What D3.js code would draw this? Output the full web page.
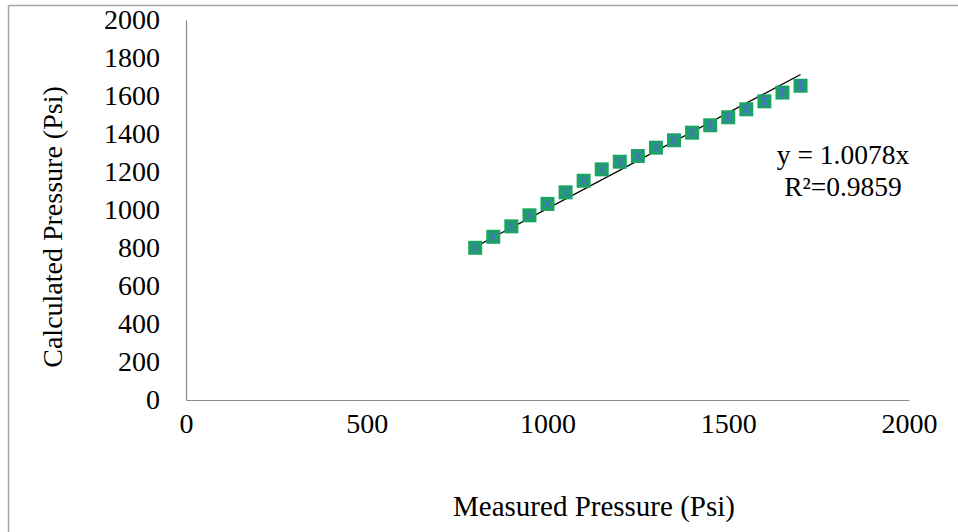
<!DOCTYPE html>
<html>
<head>
<meta charset="utf-8">
<script src="https://cdn.jsdelivr.net/npm/d3@7"></script>
<style>
html,body{margin:0;padding:0;background:#fff;}
svg{display:block;font-family:"Liberation Serif","Times New Roman",serif;}
</style>
</head>
<body>
<svg id="chart" width="958" height="532"></svg>
<script>
const measured = [800,850,900,950,1000,1050,1100,1150,1200,1250,1300,1350,1400,1450,1500,1550,1600,1650,1700];
const calculated = [801,859,914,972,1032,1093,1154,1214,1254,1284,1328,1367,1407,1446,1488,1530,1572,1618,1654];
const xTicks = [0,500,1000,1500,2000];
const yTicks = [0,200,400,600,800,1000,1200,1400,1600,1800,2000];
const slope = 1.0078;
const eqLines = ["y = 1.0078x","R²=0.9859"];
const xTitle = "Measured Pressure (Psi)";
const yTitle = "Calculated Pressure (Psi)";

const svg = d3.select("#chart");
const x = d3.scaleLinear().domain([0,2000]).range([186,909]);
const y = d3.scaleLinear().domain([0,2000]).range([400,20]);

// outer frame (top and left only visible)
svg.append("line").attr("x1",8.5).attr("x2",958).attr("y1",5.5).attr("y2",5.5).attr("stroke","#a6a6a6").attr("stroke-width",1.5);
svg.append("line").attr("x1",8.5).attr("x2",8.5).attr("y1",5.5).attr("y2",532).attr("stroke","#a6a6a6").attr("stroke-width",1.5);

// axes
const xAxis = svg.append("g").attr("transform","translate(0,400)")
  .call(d3.axisBottom(x).tickValues(xTicks).tickSize(0).tickPadding(13).tickFormat(d3.format("d")));
const yAxis = svg.append("g").attr("transform","translate(186,0)")
  .call(d3.axisLeft(y).tickValues(yTicks).tickSize(0).tickPadding(26).tickFormat(d3.format("d")));
[xAxis,yAxis].forEach(g=>{
  g.select(".domain").attr("stroke","#8c8c8c").attr("stroke-width",1.2);
  g.selectAll("text").attr("font-family",'"Liberation Serif",serif').attr("font-size",28).attr("fill","#000");
});
xAxis.selectAll("text").attr("dy","0.71em");

// trendline
const x0 = measured[0], x1 = measured[measured.length-1];
svg.append("line")
  .attr("x1",x(x0)).attr("y1",y(slope*x0))
  .attr("x2",x(x1)).attr("y2",y(slope*x1))
  .attr("stroke","#000").attr("stroke-width",1.3);

// markers
const s = 14;
const pts = svg.append("g").selectAll("g").data(measured.map((m,i)=>({m,c:calculated[i]}))).join("g")
  .attr("transform",d=>`translate(${x(d.m)},${y(d.c)})`);
pts.append("rect").attr("x",-s/2).attr("y",-s/2).attr("width",s).attr("height",s).attr("fill","#17a85d");
const a = 5;
pts.append("path")
  .attr("d",`M${-a},${-a}L${a},${a}M${-a},${a}L${a},${-a}M0,${-a-1}L0,${a+1}`)
  .attr("stroke","#4a6fc8").attr("stroke-width",1.2).attr("fill","none");

// trendline label
svg.append("g").selectAll("text").data(eqLines).join("text")
  .attr("x",843).attr("y",(d,i)=>164+i*32)
  .attr("text-anchor","middle").attr("font-size",27.5).attr("fill","#000")
  .text(d=>d);

// axis titles
svg.append("text").attr("x",594).attr("y",516).attr("text-anchor","middle")
  .attr("font-size",29).attr("fill","#000").text(xTitle);
svg.append("text").attr("transform","translate(62,227) rotate(-90)").attr("text-anchor","middle")
  .attr("font-size",28).attr("fill","#000").text(yTitle);
</script>
</body>
</html>
